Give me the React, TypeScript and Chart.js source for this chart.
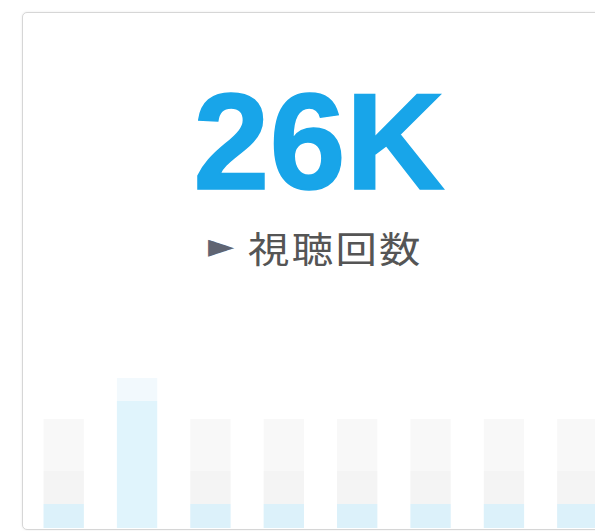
import React, { useEffect, useRef } from "react";
import { Chart, registerables } from "chart.js";

Chart.register(...registerables);

const headline = "26K";
const metricLabel = "視聴回数";
const periods = ["1", "2", "3", "4", "5", "6", "7", "8"];
const baseViews = [24, 127, 24, 24, 24, 24, 24, 24];
const midViews = [33, 0, 33, 33, 33, 33, 33, 33];
const topViews = [52, 23, 52, 52, 52, 52, 52, 52];
const highlightIndex = 1;

export default function App() {
  const canvasRef = useRef<HTMLCanvasElement | null>(null);

  useEffect(() => {
    document.body.style.margin = "0";
    const ctx = canvasRef.current;
    if (!ctx) return;
    const topColors = periods.map((_, i) => (i === highlightIndex ? "#f2f9fd" : "#f8f8f8"));
    const chart = new Chart(ctx, {
      type: "bar",
      data: {
        labels: periods,
        datasets: [
          { data: baseViews, backgroundColor: periods.map((_, i) => (i === highlightIndex ? "#e0f4fc" : "#dcf1fa")), borderWidth: 0 },
          { data: midViews, backgroundColor: "#f4f4f4", borderWidth: 0 },
          { data: topViews, backgroundColor: topColors, borderWidth: 0 },
        ],
      },
      options: {
        animation: false,
        responsive: false,
        maintainAspectRatio: false,
        layout: { padding: 0 },
        plugins: { legend: { display: false }, tooltip: { enabled: false }, title: { display: false } },
        scales: {
          x: { stacked: true, display: false, offset: true },
          y: { stacked: true, display: false, min: 0, max: 160 },
        },
        datasets: { bar: { categoryPercentage: 1, barPercentage: 0.55 } },
      },
    });
    return () => chart.destroy();
  }, []);

  return (
    <div style={{ position: "fixed", left: 0, top: 0, width: 595, height: 531, background: "#fff", overflow: "hidden" }}>
      <div
        style={{
          position: "absolute",
          left: 22,
          top: 12,
          width: 592,
          height: 516,
          border: "1px solid #d6d6d6",
          borderRadius: 5,
          background: "#fff",
          overflow: "hidden",
          boxShadow: "0 0 3px rgba(0,0,0,0.08)",
        }}
      >
        <div
          style={{
            position: "absolute",
            left: 0,
            width: 592,
            top: 60,
            textAlign: "center",
            fontFamily: "'Liberation Sans', Arial, sans-serif",
            fontWeight: 700,
            fontSize: 137,
            lineHeight: "137px",
            color: "#18a5e9",
            letterSpacing: 0,
            WebkitTextStroke: "1.5px #18a5e9",
          }}
        >
          {headline}
        </div>
        <div
          style={{
            position: "absolute",
            left: 185,
            top: 212,
            fontFamily: "'DejaVu Sans', sans-serif",
            fontSize: 34,
            lineHeight: "40px",
            color: "#5f6472",
          }}
        >
          ►
        </div>
        <div
          style={{
            position: "absolute",
            left: 225,
            top: 216,
            fontFamily: "'Noto Sans CJK JP', sans-serif",
            fontSize: 36,
            lineHeight: "36px",
            color: "#555",
            letterSpacing: 2,
            whiteSpace: "nowrap",
            transform: "scaleX(1.15)",
            transformOrigin: "left top",
          }}
        >
          {metricLabel}
        </div>
        <canvas
          ref={canvasRef}
          width={587}
          height={160}
          style={{ position: "absolute", left: 4, top: 355, width: 587, height: 160 }}
        />
      </div>
    </div>
  );
}
